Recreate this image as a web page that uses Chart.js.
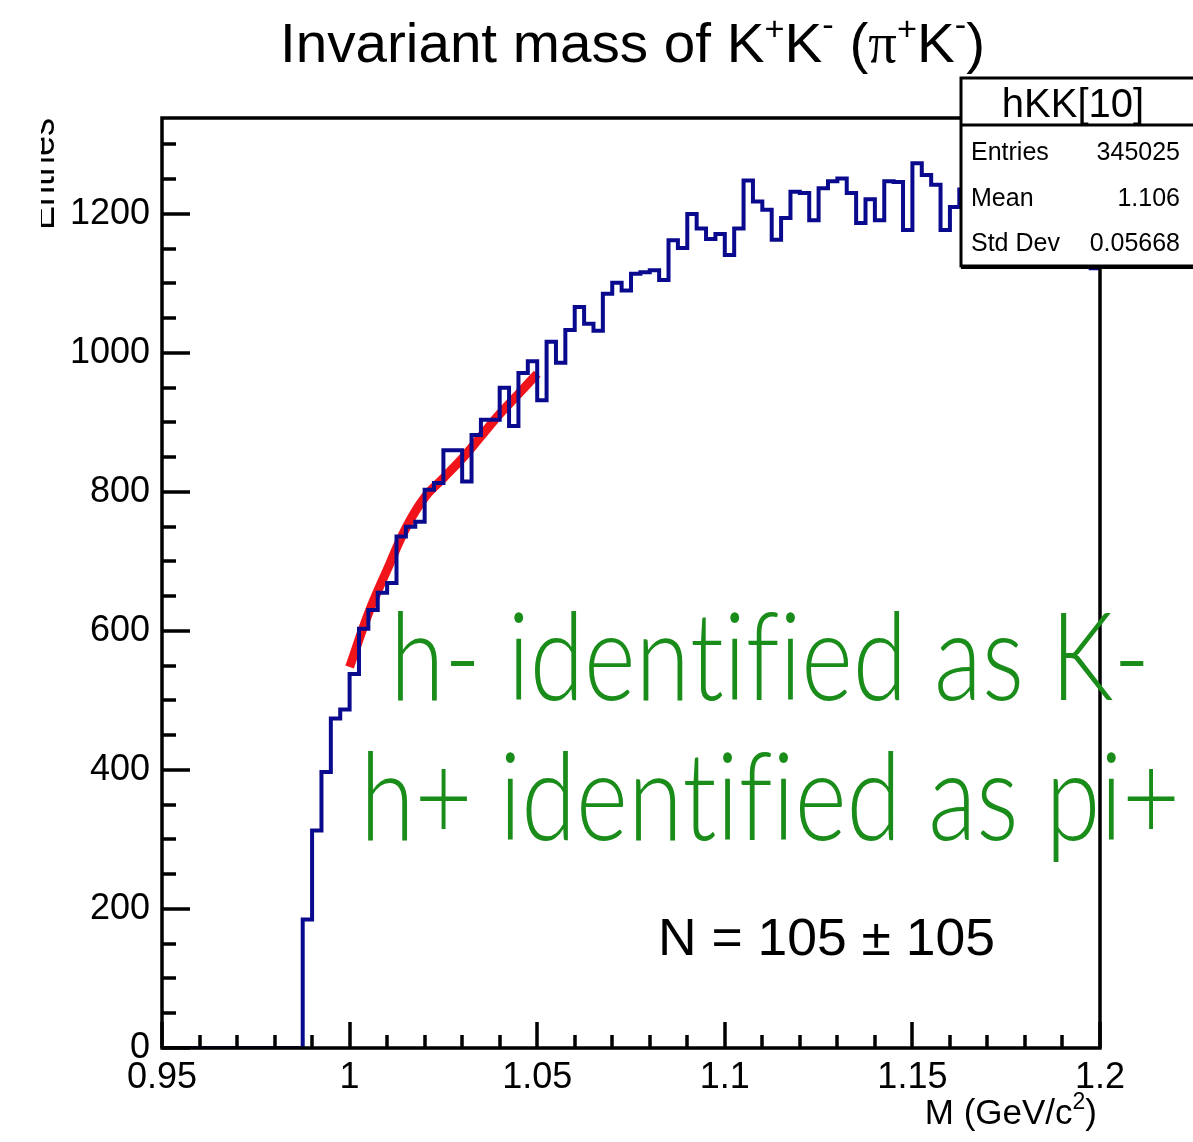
<!DOCTYPE html>
<html>
<head>
<meta charset="utf-8">
<title>Invariant mass of K+K- (pi+K-)</title>
<script src="https://cdn.jsdelivr.net/npm/chart.js@4.4.1/dist/chart.umd.min.js"></script>
<style>
  html, body { margin: 0; padding: 0; background: #fff; }
  #wrap { width: 1193px; height: 1142px; }
</style>
</head>
<body>
<div id="wrap"><canvas id="hkk" width="1193" height="1142"></canvas></div>
<script>
// histogram hKK[10]: 100 bins from 0.95 to 1.2 GeV/c^2
const binLow = 0.95;
const binWidth = 0.0025;
const counts = [
  0, 0, 0, 0, 0, 0, 0, 0, 0, 0, 0, 0, 0, 0, 0,
  185, 313, 397, 474, 487, 538, 603, 630, 655, 669,
  736, 750, 757, 803, 813, 860, 860, 815, 882, 904,
  904, 950, 895, 971, 988, 932, 1016, 986, 1033, 1066,
  1042, 1032, 1085, 1101, 1090, 1114, 1116, 1119, 1105, 1162,
  1151, 1200, 1179, 1164, 1171, 1141, 1179, 1248, 1218, 1206,
  1163, 1194, 1232, 1230, 1191, 1237, 1247, 1251, 1230, 1187,
  1221, 1191, 1247, 1246, 1177, 1273, 1256, 1242, 1177, 1210,
  1235, 1215, 1250, 1225, 1240, 1205, 1230, 1255, 1220, 1245,
  1210, 1235, 1225, 1190, 1122
];

// red fit curve
const fitX = [1.0, 1.005, 1.01, 1.015, 1.02, 1.025, 1.03, 1.035, 1.04, 1.045, 1.05];
const fitY = [548, 625, 688, 748, 792, 820, 848, 880, 912, 941, 970];

// axis tick labels
const xTicks = [0.95, 1, 1.05, 1.1, 1.15, 1.2];
const yTicks = [0, 200, 400, 600, 800, 1000, 1200];

const statRows = [['Entries', '345025'], ['Mean', '1.106'], ['Std Dev', '0.05668']];

// histogram outline points: left edge of each bin + right edge of last bin
const histPts = counts.map((c, i) => ({ x: binLow + i * binWidth, y: c }));
histPts.push({ x: binLow + counts.length * binWidth, y: counts[counts.length - 1] });
const fitPts = fitX.map((v, i) => ({ x: v, y: fitY[i] }));

const SANS = '"Liberation Sans", Arial, Helvetica, sans-serif';
const HAND = '300 122px Lato, "Open Sans", sans-serif';

// draws text pieces (normal / superscript) in one row
function drawRich(ctx, segs, x, base, align, fitWidth) {
  let w = 0;
  segs.forEach(s => { ctx.font = s.font; s.w = ctx.measureText(s.t).width; w += s.w; });
  const sx = fitWidth ? fitWidth / w : 1;
  ctx.save();
  let start = align === 'right' ? x - w * sx : align === 'center' ? x - w * sx / 2 : x;
  ctx.translate(start, base);
  ctx.scale(sx, 1);
  ctx.textAlign = 'left';
  ctx.textBaseline = 'alphabetic';
  let cx = 0;
  segs.forEach(s => {
    ctx.font = s.font;
    ctx.fillText(s.t, cx, s.dy || 0);
    cx += s.w;
  });
  ctx.restore();
}

// one segment per letter, so no ligatures get formed
const letters = (str, font) => Array.from(str).map(c => ({ t: c, font }));

const rootStyle = {
  id: 'rootStyle',
  afterDatasetsDraw(chart) {
    const { ctx, chartArea: a, scales: { x, y } } = chart;
    ctx.save();
    ctx.strokeStyle = '#000';
    ctx.lineWidth = 3.5;
    ctx.strokeRect(a.left, a.top, a.right - a.left, a.bottom - a.top);

    // inward ticks
    ctx.beginPath();
    for (let i = 0; i <= 25; i++) {
      const px = Math.round(x.getPixelForValue(0.95 + i * 0.01));
      const len = i % 5 === 0 ? 26 : 13;
      ctx.moveTo(px, a.bottom);
      ctx.lineTo(px, a.bottom - len);
    }
    for (let i = 0; i * 50 <= y.max; i++) {
      const py = Math.round(y.getPixelForValue(i * 50));
      const len = i % 4 === 0 ? 28 : 14;
      ctx.moveTo(a.left, py);
      ctx.lineTo(a.left + len, py);
    }
    ctx.stroke();

    // stats box
    const bx = 961, by = 78, bw = 250, bh = 188;
    ctx.lineWidth = 3;
    ctx.fillStyle = '#fff';
    ctx.fillRect(bx, by, bw, bh);
    ctx.strokeRect(bx, by, bw, bh);
    ctx.fillStyle = '#000';
    ctx.fillRect(bx, by + bh, bw, 3);
    ctx.beginPath();
    ctx.moveTo(bx, 125);
    ctx.lineTo(bx + bw, 125);
    ctx.stroke();
    ctx.font = '40px ' + SANS;
    ctx.textAlign = 'center';
    ctx.fillText('hKK[10]', 1073, 117);
    ctx.font = '25px ' + SANS;
    statRows.forEach((r, i) => {
      const base = 160 + i * 45.5;
      ctx.textAlign = 'left';
      ctx.fillText(r[0], 971, base);
      ctx.textAlign = 'right';
      ctx.fillText(r[1], 1180, base);
    });
    ctx.restore();

    // yield
    drawRich(ctx, [{ t: 'N = 105 \u00b1 105', font: '52px ' + SANS }], 658, 955, 'left', 337);
  },
  afterDraw(chart) {
    const { ctx } = chart;
    ctx.save();
    ctx.fillStyle = '#000';
    const big = '56px ' + SANS, sup = '34px ' + SANS;
    drawRich(ctx, [
      { t: 'Invariant mass of K', font: big },
      { t: '+', font: sup, dy: -22 },
      { t: 'K', font: big },
      { t: '-', font: sup, dy: -26 },
      { t: ' (', font: big },
      { t: '\u03c0', font: '56px "Liberation Serif", serif' },
      { t: '+', font: sup, dy: -22 },
      { t: 'K', font: big },
      { t: '-', font: sup, dy: -26 },
      { t: ')', font: big }
    ], 280, 62, 'left', 705);

    drawRich(ctx, [
      { t: 'M (GeV/c', font: '35px ' + SANS },
      { t: '2', font: '23px ' + SANS, dy: -15 },
      { t: ')', font: '35px ' + SANS }
    ], 1097, 1124, 'right');

    // y title, cut at the left edge like the reference
    ctx.save();
    ctx.beginPath();
    ctx.rect(41, 0, 120, 1142);
    ctx.clip();
    ctx.translate(54, 118);
    ctx.rotate(-Math.PI / 2);
    ctx.font = '36px ' + SANS;
    ctx.textAlign = 'right';
    ctx.fillText('Entries', 0, 0);
    ctx.restore();

    // handwritten note
    ctx.fillStyle = '#1a8c1a';
    drawRich(ctx, letters('h- identified as K-', HAND), 390, 700, 'left', 760);
    drawRich(ctx, letters('h+ identified as pi+', HAND), 360, 840, 'left', 820);
    ctx.restore();
  }
};

const tickFont = { family: SANS, size: 36 };

new Chart(document.getElementById('hkk'), {
  type: 'line',
  data: {
    datasets: [
      {
        label: 'hKK[10]',
        data: histPts,
        stepped: 'before',
        borderColor: '#0a0a8e',
        borderWidth: 4,
        pointRadius: 0,
        fill: false
      },
      {
        label: 'fit',
        data: fitPts,
        borderColor: '#f0141a',
        borderWidth: 9,
        tension: 0.4,
        pointRadius: 0,
        fill: false
      }
    ]
  },
  options: {
    responsive: false,
    devicePixelRatio: 1,
    animation: false,
    layout: { padding: { left: 0, top: 118, right: 93, bottom: 0 } },
    plugins: { legend: { display: false }, tooltip: { enabled: false }, title: { display: false } },
    scales: {
      x: {
        type: 'linear',
        min: 0.95,
        max: 1.2,
        grid: { display: false, drawTicks: false },
        border: { display: false },
        afterBuildTicks: s => { s.ticks = xTicks.map(v => ({ value: v })); },
        afterFit: s => { s.height = 94; },
        ticks: {
          font: tickFont,
          color: '#000',
          padding: 8,
          maxRotation: 0,
          autoSkip: false,
          callback: v => String(+v.toFixed(2))
        }
      },
      y: {
        type: 'linear',
        min: 0,
        max: 1338,
        grid: { display: false, drawTicks: false },
        border: { display: false },
        afterBuildTicks: s => { s.ticks = yTicks.map(v => ({ value: v })); },
        afterFit: s => { s.width = 162; },
        ticks: { font: tickFont, color: '#000', padding: 12, callback: v => String(v) }
      }
    }
  },
  plugins: [rootStyle]
});
</script>
</body>
</html>
